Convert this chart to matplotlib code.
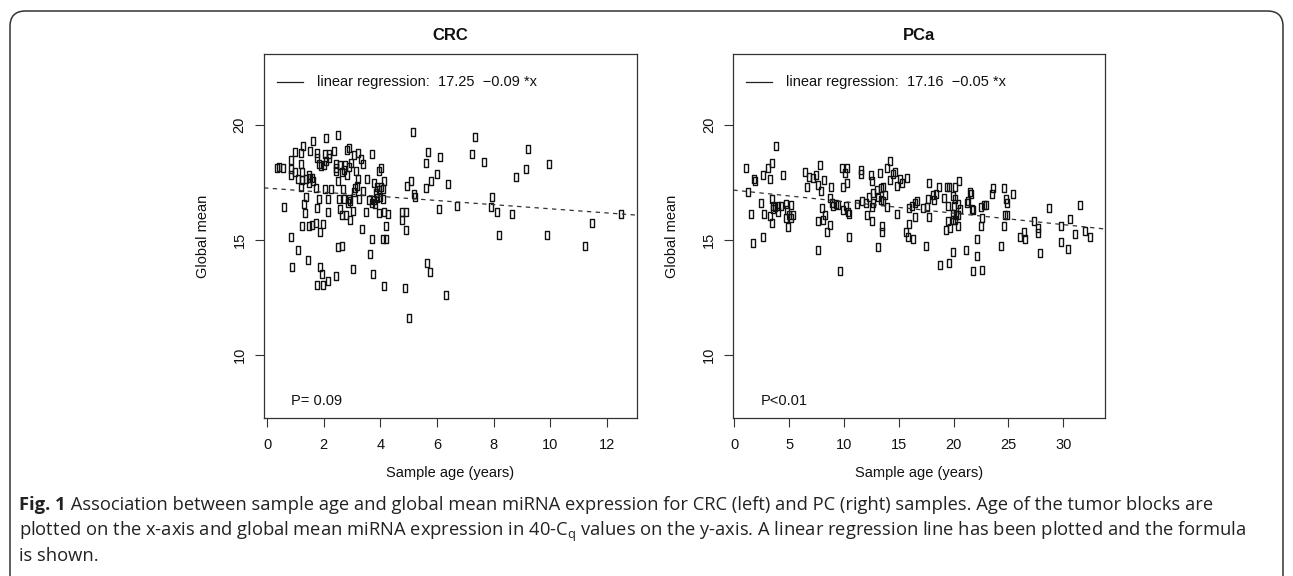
import matplotlib
matplotlib.use('Agg')
import matplotlib.pyplot as plt
from matplotlib.patches import FancyBboxPatch
from matplotlib.path import Path

# ---------------- data ----------------
crc_age = [2.49, 2.07, 1.63, 1.26, 1.00, 1.18, 1.52, 1.78, 2.04, 2.19,
           2.37, 2.81, 2.90, 3.08, 3.22, 3.72, 3.31, 3.39, 1.78, 1.84,
           1.89, 2.02, 2.07, 2.19, 2.43, 2.45, 2.57, 2.75, 2.90, 2.95,
           0.86, 0.35, 0.42, 0.57, 0.84, 0.85, 0.98, 1.19, 1.25, 1.10,
           1.25, 1.37, 1.49, 1.51, 1.57, 1.63, 1.47, 1.21, 1.71, 2.04,
           2.25, 2.43, 2.65, 2.72, 2.81, 3.14, 2.49, 2.69, 3.12, 3.22,
           3.54, 3.77, 3.95, 4.02, 4.13, 4.04, 4.08, 3.96, 3.87, 3.83,
           3.98, 4.10, 3.90, 3.77, 3.69, 3.81, 3.61, 3.39, 3.24, 3.06,
           3.16, 2.92, 2.86, 2.90, 2.72, 2.55, 2.16, 1.83, 1.37, 1.31,
           1.78, 2.16, 2.57, 2.66, 2.78, 2.92, 3.04, 3.51, 3.96, 4.13,
           4.26, 0.60, 1.33, 1.25, 1.47, 1.57, 1.71, 1.96, 1.86, 3.34,
           4.20, 0.83, 1.10, 1.43, 0.88, 1.86, 1.94, 2.16, 1.77, 1.96,
           2.43, 2.49, 2.63, 3.04, 3.63, 3.69, 3.75, 4.10, 4.20, 4.13,
           4.87, 4.75, 4.90, 4.77, 4.89, 4.95, 5.10, 5.14, 5.20, 5.22,
           5.01, 5.67, 5.63, 6.10, 5.99, 5.79, 5.61, 6.40, 7.34, 7.23,
           7.66, 9.21, 9.15, 8.79, 9.97, 7.95, 7.90, 8.11, 8.65, 6.70,
           6.06, 8.18, 9.90, 11.47, 11.23, 12.52, 5.66, 5.76, 6.32]
crc_mean = [19.57, 19.45, 19.30, 19.10, 18.84, 18.80, 18.87, 18.77, 18.74, 18.74,
            18.88, 18.91, 19.01, 18.70, 18.77, 18.74, 18.51, 18.30, 18.55, 18.29,
            18.23, 18.26, 18.43, 18.55, 18.29, 18.14, 18.26, 18.26, 18.19, 18.33,
            18.48, 18.12, 18.16, 18.12, 18.09, 17.83, 17.97, 18.29, 17.97, 17.65,
            17.61, 17.65, 17.83, 17.68, 17.71, 17.54, 17.49, 17.29, 17.25, 17.20,
            17.20, 18.00, 17.97, 18.04, 17.83, 18.00, 17.54, 17.20, 17.25, 17.64,
            17.64, 17.46, 18.00, 18.12, 17.54, 17.28, 17.20, 17.17, 17.28, 17.03,
            16.88, 16.77, 16.81, 16.74, 16.62, 16.55, 16.74, 17.14, 16.77, 17.06,
            17.35, 16.67, 16.59, 16.77, 16.77, 16.77, 16.77, 16.77, 16.88, 16.57,
            16.38, 16.23, 16.35, 16.09, 16.09, 15.87, 16.26, 16.23, 16.16, 16.23,
            16.12, 16.42, 16.16, 15.58, 15.58, 15.65, 15.75, 15.68, 15.32, 15.48,
            15.58, 15.14, 14.57, 14.10, 13.80, 13.80, 13.52, 13.19, 13.04, 13.01,
            13.43, 14.67, 14.71, 13.74, 14.38, 15.03, 13.52, 15.03, 15.03, 13.00,
            12.90, 16.19, 16.23, 15.87, 15.43, 17.36, 17.54, 19.68, 16.99, 16.86,
            11.59, 18.81, 18.36, 18.59, 17.87, 17.54, 17.25, 17.42, 19.49, 18.72,
            18.38, 18.97, 18.09, 17.75, 18.28, 16.88, 16.41, 16.22, 16.13, 16.48,
            16.35, 15.22, 15.22, 15.72, 14.75, 16.12, 13.99, 13.61, 12.61]

pca_age = [3.80, 1.04, 2.65, 3.10, 3.41, 3.28, 1.83, 1.89, 4.44, 1.22,
           2.43, 1.49, 2.71, 3.47, 3.56, 3.50, 3.71, 3.95, 4.26, 4.01,
           3.25, 3.41, 4.71, 5.17, 4.83, 5.02, 4.71, 5.17, 5.38, 4.93,
           2.65, 1.67, 6.44, 6.84, 7.14, 7.45, 7.81, 8.21, 7.66, 7.87,
           6.60, 8.78, 9.79, 10.30, 10.09, 10.24, 9.94, 11.52, 11.52, 12.46,
           12.52, 13.28, 13.89, 14.19, 14.44, 14.65, 14.19, 15.11, 15.26, 14.86,
           15.77, 12.98, 12.61, 13.34, 13.58, 13.74, 13.13, 13.34, 13.58, 13.89,
           12.31, 12.67, 8.72, 8.87, 9.03, 9.27, 9.42, 7.96, 8.27, 8.05,
           7.60, 8.72, 8.48, 9.88, 10.18, 10.39, 10.48, 11.21, 11.61, 12.00,
           12.52, 12.07, 12.52, 14.86, 15.92, 13.43, 13.49, 15.65, 15.86, 15.95,
           10.45, 13.07, 7.66, 9.64, 16.62, 17.23, 17.54, 17.78, 17.78, 17.63,
           18.14, 18.23, 18.39, 18.69, 19.12, 19.42, 19.60, 19.97, 20.12, 20.12,
           20.49, 19.51, 20.03, 20.43, 20.57, 19.91, 20.18, 20.43, 19.97, 20.12,
           19.45, 19.66, 19.30, 20.43, 17.45, 19.97, 21.09, 18.75, 19.57, 21.79,
           22.61, 22.09, 22.15, 21.49, 21.58, 21.33, 21.24, 21.64, 21.73, 22.46,
           22.79, 22.95, 22.55, 22.46, 23.55, 23.46, 24.62, 25.44, 24.74, 24.89,
           24.68, 24.83, 24.59, 24.28, 26.04, 26.41, 26.50, 27.32, 27.66, 27.66,
           27.87, 28.66, 29.81, 30.63, 29.75, 30.45, 31.09, 31.48, 31.97, 32.42,
           16.26, 16.47, 16.17, 16.45]
pca_mean = [19.09, 18.14, 17.83, 18.12, 18.33, 17.65, 17.65, 17.57, 17.80, 17.10,
            16.59, 16.12, 16.13, 16.77, 16.45, 16.33, 16.42, 16.45, 16.49, 16.20,
            16.04, 15.72, 16.55, 16.52, 16.30, 16.09, 15.94, 15.94, 16.09, 15.54,
            15.14, 14.86, 17.97, 17.75, 17.68, 17.83, 18.26, 17.61, 17.39, 17.14,
            17.29, 17.28, 18.12, 18.14, 17.93, 17.49, 17.32, 18.04, 17.87, 17.83,
            17.58, 17.90, 18.12, 18.45, 17.87, 17.97, 17.61, 17.64, 17.46, 17.35,
            17.68, 17.17, 17.03, 17.25, 17.32, 16.96, 16.88, 16.74, 16.67, 16.42,
            16.88, 16.62, 16.84, 16.59, 16.48, 16.57, 16.52, 16.38, 16.09, 15.84,
            15.80, 15.65, 15.36, 16.28, 16.48, 16.19, 16.13, 16.57, 16.67, 16.59,
            16.42, 16.09, 15.80, 16.12, 16.38, 15.61, 15.32, 15.33, 15.12, 15.70,
            15.14, 14.67, 14.57, 13.62, 16.67, 16.38, 16.42, 17.46, 15.99, 16.77,
            16.96, 16.74, 16.99, 17.29, 16.81, 17.29, 17.32, 16.91, 17.29, 16.77,
            17.57, 16.45, 16.48, 16.57, 16.33, 16.13, 16.09, 16.09, 15.87, 15.84,
            15.80, 15.51, 15.41, 15.61, 14.74, 14.49, 14.54, 13.91, 13.99, 13.62,
            13.67, 14.28, 15.04, 17.06, 17.00, 16.67, 16.59, 16.33, 16.28, 16.41,
            16.51, 16.51, 15.94, 15.62, 17.25, 16.99, 17.25, 16.99, 16.77, 16.59,
            16.09, 16.09, 15.61, 14.71, 15.14, 15.32, 15.03, 15.80, 15.51, 15.29,
            14.42, 16.38, 15.61, 15.90, 14.91, 14.61, 15.26, 16.51, 15.39, 15.12,
            15.03, 15.99, 16.45, 16.59]

panel_titles = ["CRC", "PCa"]
intercepts = [17.25, 17.16]
slopes = [-0.09, -0.05]
p_labels = ["P= 0.09", "P<0.01"]
legend_labels = ["linear regression:  17.25  \u22120.09 *x",
                 "linear regression:  17.16  \u22120.05 *x"]
x_ticks = [[0, 2, 4, 6, 8, 10, 12], [0, 5, 10, 15, 20, 25, 30]]
x_limits = [(-0.11, 13.07), (-0.09, 33.8)]
y_ticks = [10, 15, 20]
y_limits = (7.24, 23.09)
x_label = "Sample age (years)"
y_label = "Global mean"

# ---------------- figure ----------------
W, H = 1293, 576
fig = plt.figure(figsize=(W / 100, H / 100), dpi=100)
fig.patch.set_facecolor('white')
plt.rcParams['font.family'] = ['Liberation Sans', 'DejaVu Sans']

# rounded frame
frame = FancyBboxPatch((10 / W, -40 / H), (1283 - 10) / W, (576 - 11 + 40) / H,
                       boxstyle="round,pad=0,rounding_size=0.012",
                       transform=fig.transFigure, fill=False,
                       edgecolor='#333333', linewidth=1.1, mutation_aspect=W / H)
fig.add_artist(frame)

rect_marker = Path([(-0.29, -0.5), (0.29, -0.5), (0.29, 0.5), (-0.29, 0.5), (-0.29, -0.5)],
                   [Path.MOVETO, Path.LINETO, Path.LINETO, Path.LINETO, Path.CLOSEPOLY])

ax_boxes = [(264, 637), (733.3, 1105)]
top_px, bot_px = 54, 418
ages = [crc_age, pca_age]
means = [crc_mean, pca_mean]
fs = 10.5

for i in range(2):
    l, r = ax_boxes[i]
    ax = fig.add_axes([l / W, (H - bot_px) / H, (r - l) / W, (bot_px - top_px) / H])
    ax.plot(ages[i], means[i], linestyle='none', marker=rect_marker, markersize=5.3,
            markerfacecolor='none', markeredgecolor='#111111', markeredgewidth=1.0)
    ax.set_xlim(*x_limits[i])
    ax.set_ylim(*y_limits)
    ax.axline((0, intercepts[i]), slope=slopes[i], color='#333333', lw=0.9,
              linestyle=(0, (3.5, 3.5)))
    ax.set_xticks(x_ticks[i])
    ax.set_yticks(y_ticks)
    ax.tick_params(axis='both', direction='out', length=6.5, width=0.8, color='#333333',
                   labelsize=fs, labelcolor='#111111')
    ax.tick_params(axis='x', pad=8)
    ax.tick_params(axis='y', pad=6, labelrotation=90)
    for lab in ax.get_yticklabels():
        lab.set_va('center')
    for s in ax.spines.values():
        s.set_linewidth(0.9)
        s.set_color('#333333')
    wpx = r - l
    hpx = bot_px - top_px
    ax.text(0.5, 1 + 18 / hpx, panel_titles[i], transform=ax.transAxes, ha='center',
            va='center', fontsize=12, fontweight='bold', color='#111111')
    # legend
    lx0 = (13 if i == 0 else 12.4) / wpx
    ax.plot([lx0, lx0 + 26 / wpx], [1 - 28 / hpx] * 2, transform=ax.transAxes,
            color='#222222', lw=0.9, clip_on=False)
    ax.text(lx0 + 40 / wpx, 1 - 28 / hpx, legend_labels[i], transform=ax.transAxes,
            ha='left', va='center', fontsize=fs, color='#111111')
    ax.text(27 / wpx, 17 / hpx, p_labels[i], transform=ax.transAxes, ha='left',
            va='center', fontsize=fs, color='#111111')
    ax.text(0.5, -55 / hpx, x_label, transform=ax.transAxes, ha='center', va='center',
            fontsize=fs, color='#111111')
    ax.text(-61 / wpx, 0.5, y_label, transform=ax.transAxes, ha='center', va='center',
            rotation=90, fontsize=fs, color='#111111')

# ---------------- caption ----------------
cap_font = ['Open Sans', 'DejaVu Sans']
cap_bold = "Fig. 1"
cap_line1 = (" Association between sample age and global mean miRNA expression for CRC (left) "
             "and PC (right) samples. Age of the tumor blocks are")
cap_line2 = ("plotted on the x-axis and global mean miRNA expression in 40-C$_\\mathregular{q}$ "
             "values on the y-axis. A linear regression line has been plotted and the formula")
cap_line3 = "is shown."

fig.canvas.draw()
renderer = fig.canvas.get_renderer()
size = 12.0
x0 = 19
tb = fig.text(x0 / W, 1 - 510 / H, cap_bold, fontsize=size, fontweight='bold',
              family=cap_font, ha='left', va='baseline', color='#222222')
t1 = fig.text(0, 1 - 510 / H, cap_line1, fontsize=size, family=cap_font,
              ha='left', va='baseline', color='#222222')
wb = tb.get_window_extent(renderer).width
w1 = t1.get_window_extent(renderer).width
scale = (1212 - x0) / (wb + w1)
size *= scale
tb.set_fontsize(size)
t1.set_fontsize(size)
wb = tb.get_window_extent(renderer).width
t1.set_x((x0 + wb) / W)
fig.text(x0 / W, 1 - 535.5 / H, cap_line2, fontsize=size, family=cap_font,
         ha='left', va='baseline', color='#222222')
fig.text(x0 / W, 1 - 561 / H, cap_line3, fontsize=size, family=cap_font,
         ha='left', va='baseline', color='#222222')

fig.savefig('out.png', dpi=100, facecolor='white')
